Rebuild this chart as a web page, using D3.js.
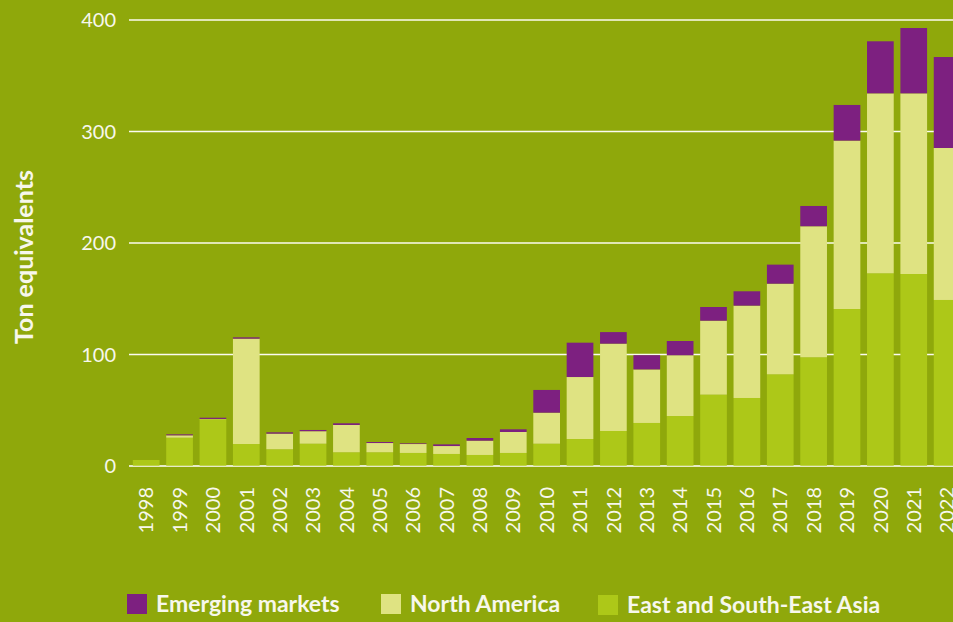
<!DOCTYPE html>
<html>
<head>
<meta charset="utf-8">
<script src="https://cdn.jsdelivr.net/npm/d3@7"></script>
<style>
	body { margin: 0; background: #8fa80b; }
	svg { display: block; }
	text { font-family: Lato, "Open Sans", sans-serif; fill: #f7f7ec; }
</style>
</head>
<body>
<svg id="chart"></svg>
<script>
//Chart data
var years = ["1998","1999","2000","2001","2002","2003","2004","2005","2006","2007","2008","2009","2010",
	"2011","2012","2013","2014","2015","2016","2017","2018","2019","2020","2021","2022"];
var eastAsia = [5.4, 25.4, 41.9, 19.7, 15, 20, 12.3, 12.3, 11.7, 10.8, 9.9, 11.7, 20,
	24.2, 31.4, 38.6, 44.8, 64, 61, 82.2, 97.5, 140.8, 172.8, 172.2, 148.9];
var northAmerica = [0, 2.1, 0.3, 94.5, 14, 11.2, 24.5, 8.3, 8, 7.1, 12.8, 18.8, 27.8,
	55.6, 78.3, 48, 54.5, 66.3, 82.8, 81.3, 117.5, 151, 161.4, 162, 136.3];
var emerging = [0, 0.9, 1.1, 1.2, 1.2, 1.1, 1.5, 0.9, 0.6, 1.5, 2.4, 2.4, 20.4,
	30.8, 10.4, 12.8, 12.8, 12.3, 12.9, 17.1, 18.2, 32, 46.7, 58.6, 81.6];
var yTicks = [0, 100, 200, 300, 400];
var seriesNames = ["East and South-East Asia", "North America", "Emerging markets"];

(function(){

	//SVG Configurations
	var svgWidth = 953;
	var svgHeight = 622;
	var colors = {"Emerging markets": "#7d2080", "North America": "#dfe382", "East and South-East Asia": "#adc818"};

	var svg = d3.select("#chart")
		.attr("width", svgWidth)
		.attr("height", svgHeight);

	//build rows for the stack layout
	var rows = years.map(function(y, i){
		return {year: y, "East and South-East Asia": eastAsia[i], "North America": northAmerica[i], "Emerging markets": emerging[i]};
	});
	var stacked = d3.stack().keys(seriesNames)(rows);

	var x = d3.scaleBand()
		.domain(years)
		.range([129.5, 963.8])
		.paddingInner(0.2)
		.paddingOuter(0.1);

	var y = d3.scaleLinear()
		.domain([0, 400])
		.range([466, 20]);

	//grid lines
	svg.append("g").selectAll("line")
		.data(yTicks)
		.enter()
		.append("line")
		.attr("x1", 129)
		.attr("x2", svgWidth)
		.attr("y1", function(d){ return y(d); })
		.attr("y2", function(d){ return y(d); })
		.attr("stroke", "#fbfbf0")
		.attr("stroke-width", 1.5);

	//y tick labels
	svg.append("g").selectAll("text")
		.data(yTicks)
		.enter()
		.append("text")
		.attr("x", 116)
		.attr("y", function(d){ return y(d); })
		.attr("dy", "0.36em")
		.attr("text-anchor", "end")
		.attr("font-size", "20px")
		.text(function(d){ return d; });

	//stacked bars
	svg.append("g").selectAll("g")
		.data(stacked)
		.enter()
		.append("g")
		.attr("fill", function(d){ return colors[d.key]; })
		.selectAll("rect")
		.data(function(d){ return d; })
		.enter()
		.append("rect")
		.attr("x", function(d){ return x(d.data.year); })
		.attr("y", function(d){ return y(d[1]); })
		.attr("width", x.bandwidth())
		.attr("height", function(d){ return y(d[0]) - y(d[1]); });

	//faint baseline across the bars
	svg.append("line")
		.attr("x1", 129)
		.attr("x2", svgWidth)
		.attr("y1", y(0))
		.attr("y2", y(0))
		.attr("stroke", "#ffffff")
		.attr("stroke-opacity", 0.3)
		.attr("stroke-width", 1.5);

	//x tick labels (rotated)
	svg.append("g").selectAll("text")
		.data(years)
		.enter()
		.append("text")
		.attr("transform", function(d){
			return "translate(" + (x(d) + x.bandwidth()/2) + ",487) rotate(-90)";
		})
		.attr("dy", "0.36em")
		.attr("text-anchor", "end")
		.attr("font-size", "20px")
		.text(function(d){ return d; });

	//y axis title
	svg.append("text")
		.attr("transform", "translate(32.5,257) rotate(-90)")
		.attr("text-anchor", "middle")
		.attr("font-size", "25px")
		.attr("font-weight", "bold")
		.text("Ton equivalents");

	//legend
	var legendItems = [
		{name: "Emerging markets", x: 127, y: 594},
		{name: "North America", x: 381, y: 594},
		{name: "East and South-East Asia", x: 598, y: 595}
	];
	var legend = svg.append("g").selectAll("g")
		.data(legendItems)
		.enter()
		.append("g")
		.attr("transform", function(d){ return "translate(" + d.x + "," + d.y + ")"; });

	legend.append("rect")
		.attr("width", 20)
		.attr("height", 20)
		.attr("fill", function(d){ return colors[d.name]; });

	legend.append("text")
		.attr("x", 29)
		.attr("y", 18)
		.attr("font-size", "23px")
		.attr("font-weight", "bold")
		.text(function(d){ return d.name; });

})();
</script>
</body>
</html>
